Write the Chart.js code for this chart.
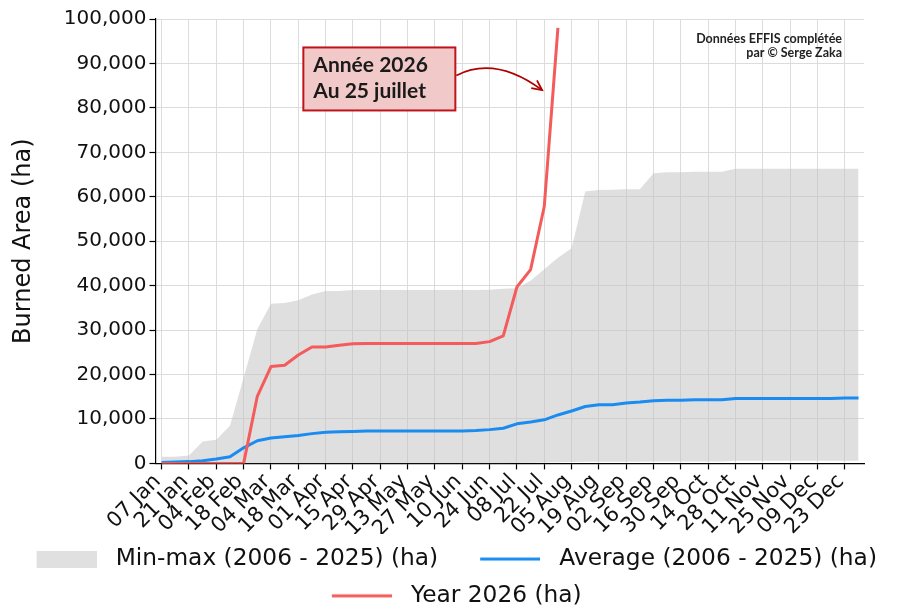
<!DOCTYPE html>
<html>
<head>
<meta charset="utf-8">
<script src="https://cdn.jsdelivr.net/npm/chart.js@4/dist/chart.umd.min.js"></script>
<style>
  html, body { margin: 0; padding: 0; background: #fff; }
  #wrap { width: 904px; height: 612px; }
</style>
</head>
<body>
<div id="wrap"><canvas id="chart" width="904" height="612"></canvas></div>
<script>
// weekly points, 07 Jan -> 30 Dec
const weeks = [
  "07 Jan", "14 Jan", "21 Jan", "28 Jan", "04 Feb", "11 Feb", "18 Feb", "25 Feb",
  "04 Mar", "11 Mar", "18 Mar", "25 Mar", "01 Apr", "08 Apr", "15 Apr", "22 Apr",
  "29 Apr", "06 May", "13 May", "20 May", "27 May", "03 Jun", "10 Jun", "17 Jun",
  "24 Jun", "01 Jul", "08 Jul", "15 Jul", "22 Jul", "29 Jul", "05 Aug", "12 Aug",
  "19 Aug", "26 Aug", "02 Sep", "09 Sep", "16 Sep", "23 Sep", "30 Sep", "07 Oct",
  "14 Oct", "21 Oct", "28 Oct", "04 Nov", "11 Nov", "18 Nov", "25 Nov", "02 Dec",
  "09 Dec", "16 Dec", "23 Dec", "30 Dec"
];
const tickLabels = [
  "07 Jan", "21 Jan", "04 Feb", "18 Feb", "04 Mar", "18 Mar", "01 Apr", "15 Apr",
  "29 Apr", "13 May", "27 May", "10 Jun", "24 Jun", "08 Jul", "22 Jul", "05 Aug",
  "19 Aug", "02 Sep", "16 Sep", "30 Sep", "14 Oct", "28 Oct", "11 Nov", "25 Nov",
  "09 Dec", "23 Dec"
];

// 2006-2025 envelope (ha)
const maxArea = [
  1500, 1500, 1800, 4900, 5300, 8500, 19300, 30200,
  35900, 36100, 36700, 38000, 38800, 38800, 39000, 39000,
  39000, 39000, 39000, 39000, 39000, 39000, 39000, 39000,
  39100, 39300, 39400, 41100, 43700, 46300, 48400, 61200,
  61500, 61600, 61700, 61700, 65300, 65500, 65500, 65600,
  65600, 65600, 66300, 66300, 66300, 66300, 66300, 66300,
  66300, 66300, 66300, 66300
];
const minArea = [
  0, 0, 0, 0, 0, 0, 0, 0,
  0, 0, 0, 0, 0, 0, 0, 0,
  0, 0, 0, 0, 0, 0, 0, 0,
  0, 0, 100, 150, 200, 250, 300, 350,
  350, 350, 350, 350, 450, 450, 450, 450,
  450, 450, 600, 600, 600, 600, 600, 600,
  600, 600, 600, 600
];
const average = [
  200, 300, 400, 600, 1000, 1500, 3500, 5100,
  5700, 6000, 6300, 6700, 7000, 7100, 7200, 7300,
  7300, 7300, 7300, 7300, 7300, 7300, 7300, 7400,
  7600, 7900, 8900, 9300, 9800, 10900, 11800, 12800,
  13200, 13200, 13600, 13800, 14100, 14200, 14200, 14300,
  14300, 14300, 14600, 14600, 14600, 14600, 14600, 14600,
  14600, 14600, 14700, 14700
];
// 2026, up to the last week available
const year2026 = [
  0, 0, 0, 0, 0, 0, 0, 15100,
  21800, 22100, 24400, 26200, 26200, 26600, 26900, 27000,
  27000, 27000, 27000, 27000, 27000, 27000, 27000, 27000,
  27400, 28700, 39700, 43600, 57800, 98000
];

const pts = arr => arr.map((v, i) => ({ x: i, y: v }));

const GREY = 'rgba(192,192,192,0.5)';
const BLUE = '#1a8cf0';
const RED = '#f45b5b';

// annotation: box anchored at its top-left, arrow to the 2026 line
const noteAt = { x: 10.37, y: 93600 };
const arrowTip = { x: 27.84, y: 84000 };

// legend swatches: 60px mark drawn off-centre so the gap to the text is wider
function swatch(color, h) {
  const c = document.createElement('canvas');
  c.width = 81; c.height = h;
  const g = c.getContext('2d');
  g.fillStyle = color;
  if (h > 6) g.fillRect(21, 0, 60, h);
  else g.fillRect(21, 1.5, 60, 3);
  return c;
}

const legendItems = [
  { text: 'Min-max (2006 - 2025) (ha)', pointStyle: swatch('#e0e0e0', 17), datasetIndex: 0 },
  { text: 'Average (2006 - 2025) (ha)', pointStyle: swatch(BLUE, 6), datasetIndex: 2 },
  { text: 'Year 2026 (ha)', pointStyle: swatch(RED, 6), datasetIndex: 3 }
];

const legendShift = {
  id: 'legendShift',
  afterLayout(chart) {
    chart.legend.left -= 9.5;
    chart.legend.right -= 9.5;
  }
};

const notes = {
  id: 'notes',
  afterDatasetsDraw(chart) {
    const { ctx, chartArea, scales: { x, y } } = chart;
    const bx = x.getPixelForValue(noteAt.x);
    const by = y.getPixelForValue(noteAt.y);
    const bw = 152, bh = 63;
    ctx.save();
    ctx.fillStyle = '#f2c9c9';
    ctx.strokeStyle = '#c0141c';
    ctx.lineWidth = 2;
    ctx.fillRect(bx, by, bw, bh);
    ctx.strokeRect(bx, by, bw, bh);
    ctx.fillStyle = '#1a1a1a';
    ctx.font = 'bold 21px Lato';
    ctx.textAlign = 'left';
    ctx.textBaseline = 'alphabetic';
    ctx.fillText('Année 2026', bx + 10, by + 24.5);
    ctx.fillText('Au 25 juillet', bx + 10, by + 51);

    // curved arrow
    const sx = bx + bw + 1, sy = by + 28;
    const tx = x.getPixelForValue(arrowTip.x), ty = y.getPixelForValue(arrowTip.y);
    const cx = sx + 39, cy = sy - 20;
    ctx.strokeStyle = '#b00000';
    ctx.lineWidth = 1.8;
    ctx.beginPath();
    ctx.moveTo(sx, sy);
    ctx.quadraticCurveTo(cx, cy, tx, ty);
    ctx.stroke();
    const ang = Math.atan2(ty - cy, tx - cx);
    const hl = 11;
    ctx.beginPath();
    ctx.moveTo(tx - hl * Math.cos(ang - 0.45), ty - hl * Math.sin(ang - 0.45));
    ctx.lineTo(tx, ty);
    ctx.lineTo(tx - hl * Math.cos(ang + 0.45), ty - hl * Math.sin(ang + 0.45));
    ctx.stroke();

    // credit
    ctx.fillStyle = '#222';
    ctx.font = 'bold 12.5px Lato';
    ctx.textAlign = 'right';
    ctx.fillText('Données EFFIS complétée', chartArea.right - 22, chartArea.top + 24);
    ctx.fillText('par © Serge Zaka', chartArea.right - 22, chartArea.top + 38);
    ctx.restore();
  }
};

Chart.defaults.font.family = "'DejaVu Sans', sans-serif";
Chart.defaults.color = '#111';

new Chart(document.getElementById('chart'), {
  type: 'line',
  data: {
    datasets: [
      { label: 'Min-max (2006 - 2025) (ha)', data: pts(maxArea), fill: '+1', backgroundColor: GREY, borderWidth: 0, pointRadius: 0, order: 3 },
      { label: 'min', data: pts(minArea), fill: false, borderWidth: 0, pointRadius: 0, order: 2 },
      { label: 'Average (2006 - 2025) (ha)', data: pts(average), borderColor: BLUE, borderWidth: 3, pointRadius: 0, fill: false, order: 1 },
      { label: 'Year 2026 (ha)', data: pts(year2026), borderColor: RED, borderWidth: 3, pointRadius: 0, fill: false, order: 0 }
    ]
  },
  options: {
    responsive: false,
    animation: false,
    events: [],
    layout: { padding: { top: 19, right: 0, bottom: -5.5, left: 0 } },
    elements: { line: { tension: 0, borderJoinStyle: 'round' } },
    plugins: {
      tooltip: { enabled: false },
      legend: {
        position: 'bottom',
        labels: {
          usePointStyle: true,
          pointStyleWidth: 96,
          boxHeight: 17,
          padding: 13.5,
          color: '#111',
          font: { size: 23.3 },
          generateLabels: () => legendItems.map(it => ({
            ...it, fillStyle: '#000', strokeStyle: '#000', lineWidth: 0, hidden: false, fontColor: '#111'
          }))
        }
      }
    },
    scales: {
      x: {
        type: 'linear',
        min: -0.45,
        max: 51.4,
        afterBuildTicks: s => { s.ticks = tickLabels.map(l => ({ value: weeks.indexOf(l) })); },
        afterFit: s => { s.height = 70.5; },
        ticks: {
          autoSkip: false, maxRotation: 45, minRotation: 45, padding: 0, labelOffset: -4,
          color: '#111', font: { size: 21 },
          callback: v => weeks[v]
        },
        grid: { color: '#dcdcdc', lineWidth: 1, tickColor: '#000', tickLength: 6, tickWidth: 1.2 },
        border: { color: '#000', width: 1.2 }
      },
      y: {
        min: 0,
        max: 100000,
        afterFit: s => { s.width = 155.5; },
        ticks: {
          stepSize: 10000, padding: 3, color: '#111', font: { size: 20 },
          callback: v => v.toLocaleString('en-US')
        },
        title: { display: true, text: 'Burned Area (ha)', color: '#111', font: { size: 24 }, padding: { top: 9, bottom: 0 } },
        grid: { color: '#dcdcdc', lineWidth: 1, tickColor: '#000', tickLength: 6, tickWidth: 1.2 },
        border: { color: '#000', width: 1.2 }
      },
      // empty right margin so the legend can use the full width
      yPad: {
        position: 'right',
        display: true,
        afterFit: s => { s.width = 40; },
        ticks: { display: false },
        grid: { display: false },
        border: { display: false }
      }
    }
  },
  plugins: [legendShift, notes]
});
</script>
</body>
</html>
